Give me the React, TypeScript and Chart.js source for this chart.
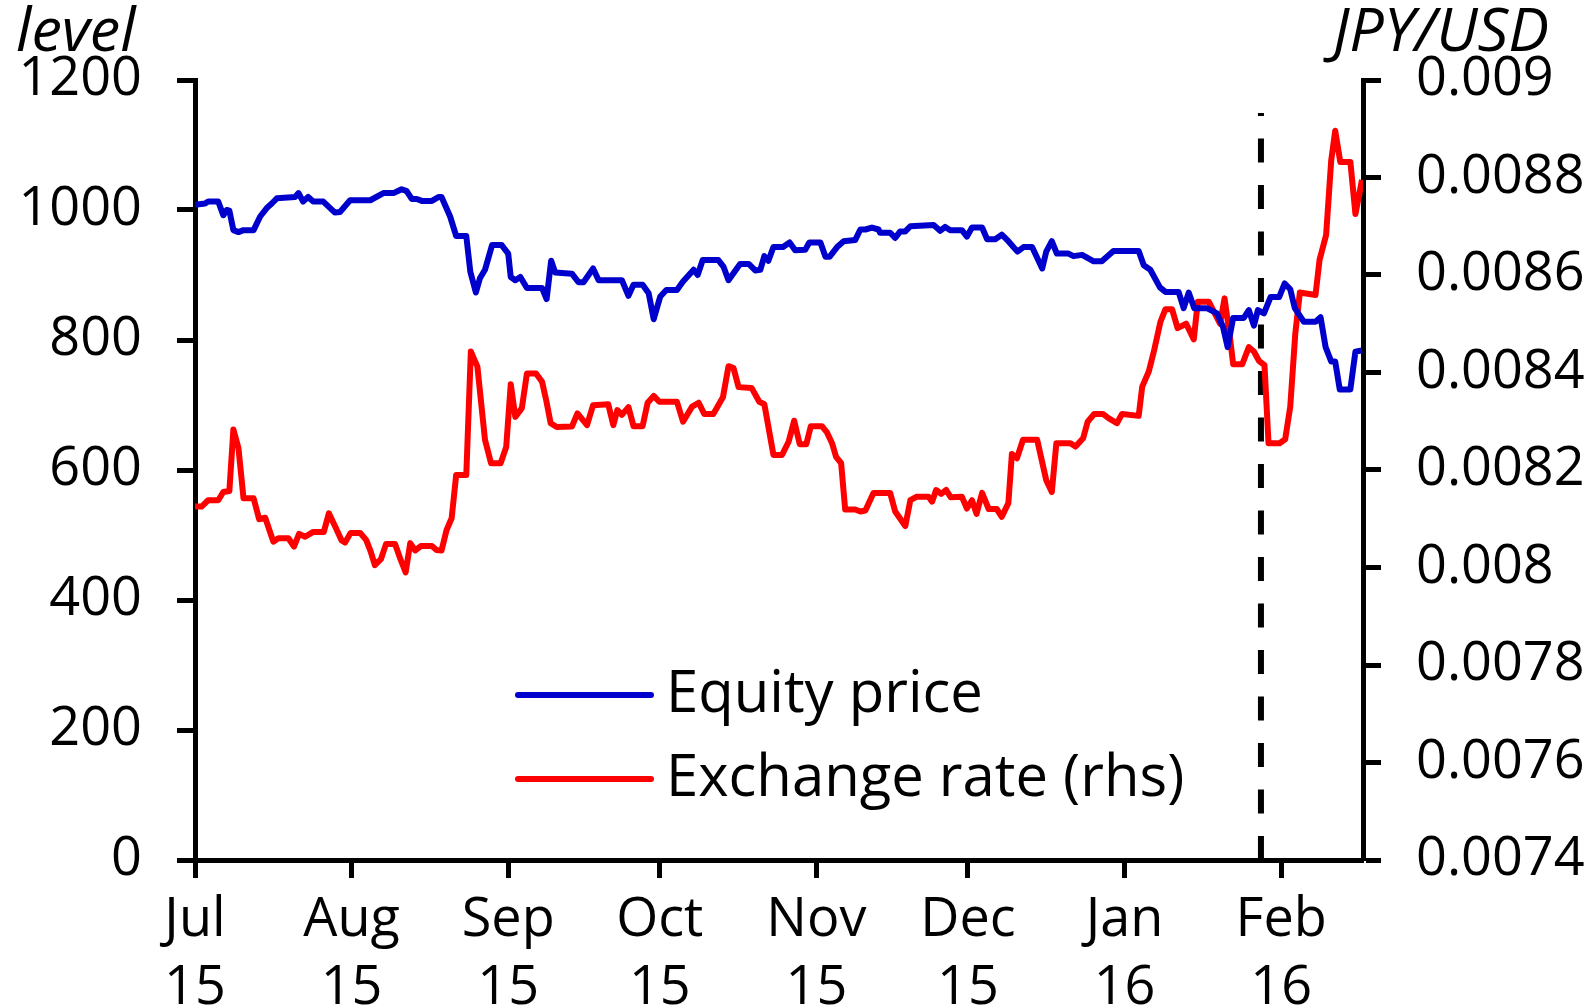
import React, { useEffect, useRef } from 'react';
import { Chart, registerables } from 'chart.js';

Chart.register(...registerables);

// x positions are days since 1 Jul 2015
const monthTickDays = [0, 31, 62, 92, 123, 153, 184, 215];
const monthTickLabels = [
  ['Jul', '15'], ['Aug', '15'], ['Sep', '15'], ['Oct', '15'],
  ['Nov', '15'], ['Dec', '15'], ['Jan', '16'], ['Feb', '16'],
];
const leftTicks = [0, 200, 400, 600, 800, 1000, 1200];
const rightTicks = [0.0074, 0.0076, 0.0078, 0.008, 0.0082, 0.0084, 0.0086, 0.0088, 0.009];
const eventDay = 211;

const equityDays = [
  0, 2, 2.6, 4.6, 5.6, 6.3, 6.8, 7.6, 8.6, 9.6, 11.6, 12.9, 14.2, 15.2, 16.2, 19.8, 20.5, 21.4, 22.4, 23.4,
  25.4, 27.7, 28.7, 30.7, 34.7, 37.3, 39.3, 40.9, 41.9, 42.9, 43.9, 44.9, 46.9, 48.2, 48.8, 50.5, 51.7, 53.7,
  54.5, 55.6, 56.4, 57.4, 58.8, 60.7, 62, 62.5, 63.4, 64.4, 65.7, 68.7, 69.6, 70.5, 71.3, 74.6, 75.9, 76.9,
  78.8, 79.9, 84.5, 85.8, 86.8, 88.6, 89.8, 90.8, 92.1, 93.3, 95.4, 96.6, 98.7, 99.5, 100.5, 103.6, 104.6,
  105.6, 107.9, 109.6, 110.9, 111.9, 112.7, 113.5, 114.5, 116.4, 117.7, 118.8, 120.8, 121.6, 123.8, 124.8,
  125.6, 127.1, 128.4, 130.7, 131.7, 132.7, 134, 135.3, 135.6, 137.6, 138.6, 139.6, 140.6, 141.6, 146.2,
  147.5, 148.5, 149.5, 151.8, 152.8, 153.8, 155.8, 156.8, 158.4, 159.7, 161, 162.8, 164, 165.7, 167.7, 168.5,
  169.6, 170.6, 172.9, 173.9, 175.6, 177.9, 179.5, 181.8, 186.8, 187.8, 189.1, 191, 192.1, 194.7, 195.7,
  196.7, 197.8, 200.3, 202.3, 203.5, 204.4, 205.5, 207.6, 208.6, 209.6, 210.4, 211.6, 212.9, 214.6, 215.7,
  216.8, 217.7, 219.5, 221.8, 222.8, 223.8, 224.9, 225.7, 226.6, 228.7, 229.7, 231,
];
const equityValues = [
  1008, 1010, 1013, 1013, 992, 1000, 999, 969, 966, 969, 969, 990, 1003, 1010, 1018, 1020, 1026, 1013, 1020, 1013,
  1013, 996, 997, 1015, 1015, 1026, 1026, 1032, 1029, 1017, 1017, 1014, 1014, 1020, 1020, 990, 960, 960,
  905, 873, 895, 908, 946, 946, 933, 897, 892, 897, 880, 880, 863, 922, 904, 902, 889, 889,
  910, 892, 892, 868, 885, 885, 872, 832, 867, 877, 877, 890, 908, 900, 923, 923, 913,
  892, 917, 917, 907, 908, 929, 922, 943, 943, 950, 938, 939, 950, 950, 928,
  928, 943, 952, 954, 970, 970, 973, 970, 965, 965, 957, 967, 967, 975, 977,
  968, 974, 969, 969, 959, 973, 973, 955, 955, 962, 952, 936, 943, 943, 910, 936,
  952, 933, 933, 929, 931, 921, 921, 937, 937, 915, 908, 881, 874, 874, 849,
  873, 849, 849, 841, 820, 789, 834, 834, 846, 822, 846, 841, 866, 866, 887,
  878, 849, 828, 828, 835, 789, 767, 767, 724, 724, 782, 784,
];

const fxDays = [
  0, 1.3, 2.6, 4.6, 5.6, 6.8, 7.6, 8.6, 9.6, 11.6, 12.7, 13.9, 15.5, 16.5, 18.5, 19.6, 20.6, 21.8, 23.4, 25.5,
  26.5, 27.7, 29, 29.7, 30.8, 32.7, 33.9, 34.8, 35.6, 36.8, 37.8, 39.6, 40.6, 41.7, 42.6, 43.6, 44.7, 46.9,
  47.8, 48.8, 49.8, 50.8, 51.7, 53.7, 54.6, 55.9, 57.4, 58.6, 60.5, 61.6, 62.5, 63.4, 64.7, 65.7, 67.5, 68.7,
  69.5, 70.4, 71.6, 74.6, 75.7, 77.6, 78.8, 81.8, 82.8, 83.6, 84.5, 85.8, 86.8, 88.6, 89.6, 90.8, 91.9, 95.4,
  96.6, 98.4, 99.7, 100.8, 102.6, 104.5, 105.6, 106.6, 107.6, 110.2, 111.7, 112.7, 114.5, 116.2, 117.5,
  118.6, 119.7, 121, 121.9, 124.1, 125.1, 126.1, 126.9, 127.9, 128.7, 130.7, 131.7, 132.7, 134.3, 137.6,
  138.6, 140.6, 141.6, 142.8, 145.2, 145.9, 146.7, 147.7, 148.7, 149.6, 151.8, 152.8, 153.8, 154.7, 155.8,
  157.1, 158.7, 159.7, 161, 161.7, 162.7, 163.9, 166.7, 168.5, 169.6, 170.5, 173.3, 174.3, 175.8, 176.7,
  178, 179.7, 180.9, 182.5, 183.5, 186.8, 187.5, 188.8, 189.8, 191.1, 192.1, 193.4, 194.5, 196.2, 197.7,
  198.5, 200.7, 202.9, 203.8, 204.8, 205.5, 207.3, 208.6, 209.6, 210.6, 211.7, 212.5, 214.7, 215.8, 216.8,
  217.8, 218.7, 221.8, 222.6, 223.9, 224.9, 225.7, 226.7, 228.7, 229.7, 231,
];
const fxValues = [
  0.008125, 0.008125, 0.008138, 0.008138, 0.008155, 0.008157, 0.008283, 0.008245, 0.008142, 0.008142,
  0.008099, 0.008102, 0.008053, 0.00806, 0.00806, 0.008043, 0.008069, 0.008063, 0.008073, 0.008073,
  0.008111, 0.008085, 0.008056, 0.008051, 0.008071, 0.008071, 0.008056, 0.008032, 0.008005, 0.008017,
  0.008048, 0.008048, 0.008019, 0.00799, 0.00805, 0.008035, 0.008044, 0.008044,
  0.008036, 0.008035, 0.008077, 0.008101, 0.00819, 0.00819, 0.008443, 0.008412, 0.008262, 0.008214,
  0.008214, 0.008247, 0.008376, 0.008309, 0.008327, 0.008398, 0.008398, 0.008381,
  0.008344, 0.008296, 0.008288, 0.008289, 0.008316, 0.008292, 0.008333, 0.008335, 0.008292, 0.008323,
  0.008313, 0.008329, 0.00829, 0.00829, 0.008338, 0.008352, 0.00834, 0.00834,
  0.008299, 0.00833, 0.008338, 0.008315, 0.008315, 0.008349, 0.008413, 0.008409, 0.00837, 0.008368,
  0.00834, 0.008335, 0.008231, 0.008231, 0.008258,
  0.008301, 0.008253, 0.008253, 0.00829, 0.00829, 0.008277, 0.008255, 0.008227, 0.008214, 0.008119,
  0.008119, 0.008115, 0.008117, 0.008153, 0.008153,
  0.008115, 0.008085, 0.008138, 0.008145, 0.008145, 0.008135, 0.008159, 0.008151, 0.008159, 0.008144,
  0.008145, 0.008121, 0.008138, 0.00811, 0.008153,
  0.00812, 0.00812, 0.008104, 0.008132, 0.008233, 0.008224, 0.008262, 0.008262, 0.008179, 0.008155,
  0.008255, 0.008255, 0.008248, 0.008265, 0.008299,
  0.008315, 0.008315, 0.008306, 0.008296, 0.008315, 0.008311, 0.008371, 0.008402, 0.008443, 0.008504,
  0.00853, 0.00853, 0.008491, 0.0085, 0.008468,
  0.008545, 0.008545, 0.0085, 0.008552, 0.008477, 0.008417, 0.008417, 0.008452, 0.008443, 0.008424,
  0.008415, 0.008255, 0.008255, 0.008263, 0.00833,
  0.00848, 0.008564, 0.008559, 0.008631, 0.008682, 0.008834, 0.008896, 0.008832, 0.008832, 0.008725, 0.008795,
];

const FONT = "'Open Sans', 'DejaVu Sans', sans-serif";
const BLUE = '#0000CC';
const RED = '#FF0000';

const extrasPlugin = {
  id: 'extras',
  beforeDatasetsDraw(chart: any) {
    const { ctx, chartArea, scales } = chart;
    const x = scales.x.getPixelForValue(eventDay);
    ctx.save();
    ctx.strokeStyle = '#000';
    ctx.lineWidth = 6;
    ctx.setLineDash([24, 22.5]);
    ctx.beginPath();
    ctx.moveTo(x, chartArea.bottom);
    ctx.lineTo(x, chartArea.top + 33);
    ctx.stroke();
    ctx.restore();
  },
  afterDraw(chart: any) {
    const { ctx } = chart;
    ctx.save();
    ctx.fillStyle = '#000';
    ctx.font = `italic 61px ${FONT}`;
    ctx.textBaseline = 'alphabetic';
    ctx.textAlign = 'left';
    ctx.fillText('level', 16, 51);
    ctx.textAlign = 'right';
    ctx.fillText('JPY/USD', 1549, 51);

    const items = [
      { label: 'Equity price', color: BLUE, y: 695 },
      { label: 'Exchange rate (rhs)', color: RED, y: 779 },
    ];
    ctx.font = `58px ${FONT}`;
    ctx.textAlign = 'left';
    ctx.textBaseline = 'middle';
    for (const it of items) {
      ctx.strokeStyle = it.color;
      ctx.lineWidth = 6;
      ctx.lineCap = 'round';
      ctx.beginPath();
      ctx.moveTo(518, it.y);
      ctx.lineTo(651, it.y);
      ctx.stroke();
      ctx.fillStyle = '#000';
      ctx.fillText(it.label, 666, it.y);
    }
    ctx.restore();
  },
};

export default function App() {
  const ref = useRef<HTMLCanvasElement | null>(null);
  useEffect(() => {
    if (!ref.current) return;
    const tickFont = { family: FONT, size: 54, lineHeight: 1.25 };
    const gridCommon = {
      drawOnChartArea: false,
      drawTicks: true,
      tickLength: 18,
      tickWidth: 5,
      color: '#000',
    };
    const border = { display: true, width: 5, color: '#000' };
    const chart = new Chart(ref.current, {
      type: 'line',
      data: {
        datasets: [
          {
            label: 'Equity price',
            data: equityDays.map((d, i) => ({ x: d, y: equityValues[i] })),
            borderColor: BLUE,
            borderWidth: 6,
            pointRadius: 0,
            tension: 0,
            yAxisID: 'y',
            borderJoinStyle: 'round',
          },
          {
            label: 'Exchange rate (rhs)',
            data: fxDays.map((d, i) => ({ x: d, y: fxValues[i] })),
            borderColor: RED,
            borderWidth: 6,
            pointRadius: 0,
            tension: 0,
            yAxisID: 'y1',
            borderJoinStyle: 'round',
          },
        ],
      },
      options: {
        animation: false,
        responsive: false,
        maintainAspectRatio: false,
        layout: { padding: { top: 80, left: 0, right: 0, bottom: 0 } },
        plugins: { legend: { display: false }, tooltip: { enabled: false } },
        scales: {
          x: {
            type: 'linear',
            min: 0,
            max: 231.2,
            afterBuildTicks: (s: any) => {
              s.ticks = monthTickDays.map((v) => ({ value: v }));
            },
            afterFit: (s: any) => {
              s.height = 145;
            },
            ticks: {
              autoSkip: false,
              maxRotation: 0,
              color: '#000',
              font: tickFont,
              padding: 9,
              callback: (_v: any, i: number) => monthTickLabels[i],
            },
            grid: gridCommon,
            border,
          },
          y: {
            position: 'left',
            min: 0,
            max: 1200,
            afterBuildTicks: (s: any) => {
              s.ticks = leftTicks.map((v) => ({ value: v }));
            },
            afterFit: (s: any) => {
              s.width = 195;
            },
            ticks: {
              color: '#000',
              font: tickFont,
              padding: 35,
              callback: (v: any) => String(v),
            },
            grid: gridCommon,
            border,
          },
          y1: {
            position: 'right',
            min: 0.0074,
            max: 0.009,
            afterBuildTicks: (s: any) => {
              s.ticks = rightTicks.map((v) => ({ value: v }));
            },
            afterFit: (s: any) => {
              s.width = 226;
            },
            ticks: {
              color: '#000',
              font: tickFont,
              padding: 35,
              callback: (v: any) => String(parseFloat(Number(v).toFixed(4))),
            },
            grid: gridCommon,
            border,
          },
        },
      },
      plugins: [extrasPlugin],
    } as any);
    return () => chart.destroy();
  }, []);

  return (
    <div style={{ position: 'fixed', left: 0, top: 0, width: 1589, height: 1005, background: '#fff' }}>
      <canvas ref={ref} width={1589} height={1005} style={{ width: 1589, height: 1005, display: 'block' }} />
    </div>
  );
}
